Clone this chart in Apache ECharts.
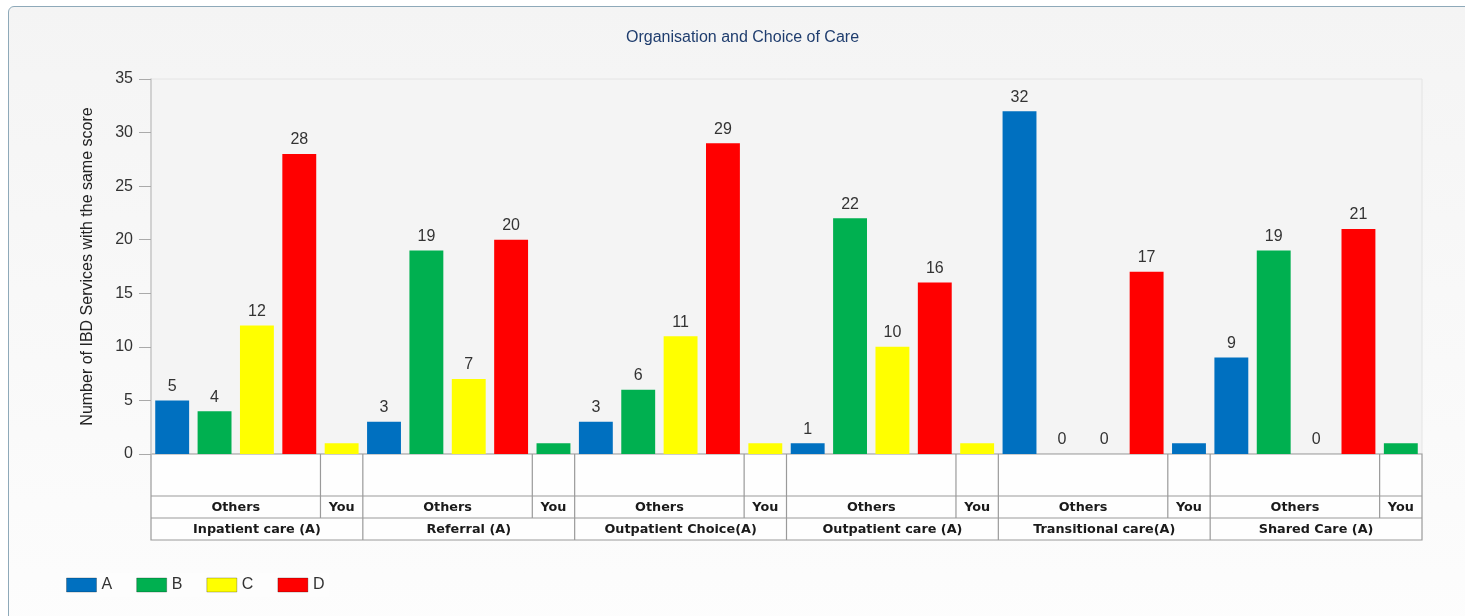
<!DOCTYPE html>
<html>
<head>
<meta charset="utf-8">
<script src="https://cdn.jsdelivr.net/npm/echarts@6/dist/echarts.min.js"></script>
<style>
  html, body { margin: 0; padding: 0; background: #fff; overflow: hidden; }
  #panel {
    position: absolute; left: 8px; top: 6px; width: 1480px; height: 640px;
    border: 1.5px solid #8ea9b9; border-radius: 6px;
    background: linear-gradient(#f4f4f4, #fdfdfd);
  }
  #chart { position: absolute; left: 0; top: 0; width: 1465px; height: 616px; }
</style>
</head>
<body>
<div id="panel"></div>
<div id="chart"></div>
<script>
// groups along the x axis
const groups = ['Inpatient care (A)', 'Referral (A)', 'Outpatient Choice(A)', 'Outpatient care (A)', 'Transitional care(A)', 'Shared Care (A)'];
const scores = ['A', 'B', 'C', 'D'];
const colors = ['#0070c0', '#00b050', '#ffff00', '#ff0000'];

// "Others" counts per score
const othersA = [5, 3, 3, 1, 32, 9];
const othersB = [4, 19, 6, 22, 0, 19];
const othersC = [12, 7, 11, 10, 0, 0];
const othersD = [28, 20, 29, 16, 17, 21];

// "You" bar: which score, and its height
const youScore = ['C', 'B', 'C', 'C', 'A', 'B'];
const youValue = [1, 1, 1, 1, 1, 1];

const yTicks = [0, 5, 10, 15, 20, 25, 30, 35];

const others = [othersA, othersB, othersC, othersD];
const slotsPerGroup = 5;
const sans = 'Liberation Sans, Arial, sans-serif';

// one category per bar slot: 4 "Others" slots + 1 "You" slot per group
const categories = [];
groups.forEach(function (g) {
  for (let k = 0; k < slotsPerGroup; k++) {
    categories.push(g + '|' + (k < 4 ? 'Others ' + scores[k] : 'You'));
  }
});

const series = scores.map(function (s, si) {
  const data = [];
  groups.forEach(function (g, gi) {
    for (let k = 0; k < 4; k++) {
      data.push(k === si ? others[si][gi] : '-');
    }
    data.push(youScore[gi] === s ? { value: youValue[gi], label: { show: false } } : '-');
  });
  return {
    name: s,
    type: 'bar',
    barGap: '-100%',
    barCategoryGap: '20%',
    itemStyle: { color: colors[si] },
    label: {
      show: true,
      position: 'top',
      distance: 6,
      color: '#333',
      fontSize: 16,
      fontFamily: sans
    },
    data: data
  };
});

const chart = echarts.init(document.getElementById('chart'));

const option = {
  backgroundColor: 'transparent',
  animation: false,
  title: {
    text: 'Organisation and Choice of Care',
    left: 621,
    top: 25,
    textStyle: {
      color: '#1f3d6e',
      fontSize: 16,
      fontWeight: 'normal',
      fontFamily: sans
    }
  },
  legend: {
    left: 61,
    top: 573,
    itemWidth: 30,
    itemHeight: 14,
    itemGap: 24,
    icon: 'rect',
    padding: [4, 5],
    backgroundColor: '#fdfdfd',
    textStyle: { color: '#333', fontSize: 16, fontFamily: sans },
    itemStyle: { borderColor: 'rgba(0,0,0,0.25)', borderWidth: 1 },
    data: scores
  },
  grid: {
    left: 151,
    right: 43,
    top: 79,
    bottom: 162,
    show: true,
    backgroundColor: '#f4f4f4',
    borderColor: '#e4e4e4',
    borderWidth: 1
  },
  xAxis: {
    type: 'category',
    data: categories,
    axisLine: { show: false },
    axisTick: { show: false },
    axisLabel: { show: false }
  },
  yAxis: {
    type: 'value',
    min: yTicks[0],
    max: yTicks[yTicks.length - 1],
    interval: 5,
    name: 'Number of IBD Services with the same score',
    nameLocation: 'middle',
    nameGap: 55,
    nameTextStyle: { color: '#222', fontSize: 16, fontFamily: sans },
    axisLine: { show: true, lineStyle: { color: '#c8c8c8', width: 1.5 } },
    axisTick: { show: true, length: 12, lineStyle: { color: '#aaa' } },
    axisLabel: { color: '#333', fontSize: 16, margin: 18, fontFamily: sans },
    splitLine: { show: false }
  },
  series: series
};

chart.setOption(option);

// category table under the x axis, placed with the axis scale
function drawTable() {
  const c0 = chart.convertToPixel({ xAxisIndex: 0 }, 0);
  const c1 = chart.convertToPixel({ xAxisIndex: 0 }, 1);
  const bw = c1 - c0;
  const edge = function (i) { return c0 - bw / 2 + i * bw; };
  const y0 = chart.convertToPixel({ yAxisIndex: 0 }, 0);
  const r1 = y0 + 42, r2 = r1 + 22, r3 = r2 + 22;
  const lineStyle = { stroke: '#9a9a9a', lineWidth: 1.2 };
  const font = 'bold 12.8px "DejaVu Sans", Verdana, sans-serif';
  const els = [];
  const x0 = edge(0), x1 = edge(categories.length);

  els.push({ type: 'rect', shape: { x: x0, y: y0, width: x1 - x0, height: r3 - y0 }, style: { fill: '#fefefe', stroke: '#9a9a9a', lineWidth: 1.2 } });
  els.push({ type: 'line', shape: { x1: x0, y1: r1, x2: x1, y2: r1 }, style: lineStyle });
  els.push({ type: 'line', shape: { x1: x0, y1: r2, x2: x1, y2: r2 }, style: lineStyle });

  groups.forEach(function (g, gi) {
    const gs = edge(gi * slotsPerGroup);
    const split = edge(gi * slotsPerGroup + 4);
    const ge = edge((gi + 1) * slotsPerGroup);
    if (gi > 0) els.push({ type: 'line', shape: { x1: gs, y1: y0, x2: gs, y2: r3 }, style: lineStyle });
    els.push({ type: 'line', shape: { x1: split, y1: y0, x2: split, y2: r2 }, style: lineStyle });
    els.push({ type: 'text', style: { text: 'Others', x: (gs + split) / 2, y: (r1 + r2) / 2 + 1, align: 'center', verticalAlign: 'middle', font: font, fill: '#1a1a1a' } });
    els.push({ type: 'text', style: { text: 'You', x: (split + ge) / 2, y: (r1 + r2) / 2 + 1, align: 'center', verticalAlign: 'middle', font: font, fill: '#1a1a1a' } });
    els.push({ type: 'text', style: { text: g, x: (gs + ge) / 2, y: (r2 + r3) / 2 + 1, align: 'center', verticalAlign: 'middle', font: font, fill: '#1a1a1a' } });
  });

  chart.setOption({ graphic: { elements: els } });
}
drawTable();

window.addEventListener('resize', function () {
  chart.resize();
  drawTable();
});
</script>
</body>
</html>
